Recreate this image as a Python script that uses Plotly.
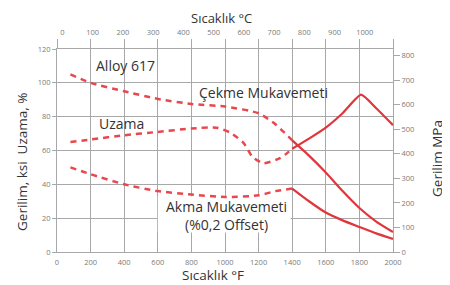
import plotly.graph_objects as go

# ---- data ----
tens_dash_T = [80, 200, 400, 600, 800, 1000, 1200, 1300, 1400]
tens_dash_V = [105, 100, 95, 90.5, 87.5, 86, 82, 75.5, 66]
tens_sol_T = [1400, 1500, 1600, 1700, 1800, 1900, 2000]
tens_sol_V = [66, 57, 47, 36, 26, 18, 11.8]

elong_dash_T = [80, 200, 400, 600, 800, 950, 1033, 1110, 1165, 1230, 1330, 1400]
elong_dash_V = [65, 66.5, 69, 71, 73, 73.5, 70.5, 64.5, 56, 52.5, 55.6, 61]
elong_sol_T = [1400, 1500, 1600, 1700, 1810, 1900, 2000]
elong_sol_V = [61, 67, 73.5, 82, 93, 85, 75]

yield_dash_T = [80, 200, 400, 600, 800, 1000, 1200, 1300, 1400]
yield_dash_V = [50, 46, 40, 36, 34, 32.5, 33.5, 36, 37.5]
yield_sol_T = [1400, 1500, 1600, 1700, 1800, 1900, 2000]
yield_sol_V = [37.5, 30, 23.3, 18.7, 14.8, 11, 7.7]

f_ticks = list(range(0, 2001, 200))
c_ticks = list(range(0, 1001, 100))
ksi_ticks = list(range(0, 121, 20))
mpa_ticks = list(range(0, 801, 100))

RED = "#e1353c"
DRED = "#e8474f"
GRID = "#a8a8a8"
TICKC = "#7a7a7a"
FONT = "Open Sans"

# page body adds an 8px offset; compensate so the figure sits like the reference
OFF = 8
W, H = 450 - OFF, 285 - OFF
L, R, T, B = 57 - OFF, 57, 49 - OFF, 33
PW, PH = W - L - R, H - T - B

fig = go.Figure()
dash = "6px,5px"
for xs, ys in [(tens_dash_T, tens_dash_V), (elong_dash_T, elong_dash_V), (yield_dash_T, yield_dash_V)]:
    fig.add_trace(go.Scatter(x=xs, y=ys, mode="lines", line=dict(color=DRED, width=2.5, dash=dash, shape="spline", smoothing=0.6),
                             showlegend=False, hoverinfo="skip"))
for xs, ys in [(tens_sol_T, tens_sol_V), (elong_sol_T, elong_sol_V), (yield_sol_T, yield_sol_V)]:
    fig.add_trace(go.Scatter(x=xs, y=ys, mode="lines", line=dict(color=RED, width=2.2, shape="spline", smoothing=0.5),
                             showlegend=False, hoverinfo="skip"))

# invisible traces to activate secondary axes
fig.add_trace(go.Scatter(x=[0], y=[0], xaxis="x2", yaxis="y", mode="markers", marker=dict(opacity=0), showlegend=False, hoverinfo="skip"))
fig.add_trace(go.Scatter(x=[0], y=[0], xaxis="x", yaxis="y2", mode="markers", marker=dict(opacity=0), showlegend=False, hoverinfo="skip"))
fig.add_trace(go.Scatter(x=[0], y=[0], xaxis="x3", yaxis="y", mode="markers", marker=dict(opacity=0), showlegend=False, hoverinfo="skip"))

tickfont = dict(family=FONT, size=7.5, color=TICKC)
fig.update_layout(
    width=W, height=H,
    margin=dict(l=L, r=R, t=T, b=B, pad=0),
    paper_bgcolor="white", plot_bgcolor="white",
    font=dict(family=FONT, color="#333"),
    xaxis=dict(range=[0, 2000], tickvals=f_ticks, showgrid=True, gridcolor=GRID, gridwidth=1,
               showline=True, linecolor=GRID, mirror=True, ticks="", tickfont=tickfont, zeroline=False, ticklabelstandoff=3),
    xaxis2=dict(overlaying="x", side="top", range=[(0 - 32) / 1.8, (2000 - 32) / 1.8], tickvals=c_ticks,
                showgrid=False, showline=False, ticks="", tickfont=tickfont, zeroline=False, ticklabelstandoff=12),
    xaxis3=dict(overlaying="x", side="top", range=[0, 2000], tickvals=f_ticks, showgrid=False, showline=False,
                ticks="outside", ticklen=9, tickcolor=GRID, showticklabels=False, zeroline=False),
    yaxis=dict(range=[0, 120], tickvals=ksi_ticks, showgrid=True, gridcolor=GRID, gridwidth=1,
               showline=True, linecolor=GRID, mirror=True, ticks="outside", ticklen=4, tickcolor=GRID,
               tickfont=tickfont, zeroline=False),
    yaxis2=dict(overlaying="y", side="right", range=[0, 120 * 6.894757], tickvals=mpa_ticks, showgrid=False,
                showline=False, ticks="outside", ticklen=6, tickcolor=GRID, tickfont=tickfont, zeroline=False),
)

# white box behind yield label
fig.add_shape(type="rect", xref="x", yref="y", x0=600, x1=1390, y0=11.5, y1=33, fillcolor="white",
              line=dict(width=0), layer="between")

# positions given in window pixels of the reference
def px_x(p):
    return (p - OFF - L) / PW
def px_y(p):
    return (H - B - (p - OFF)) / PH

LBL = dict(family=FONT, size=14, color="#333")
ann = [
    ("Alloy 617", 125, 65),
    ("Uzama", 121, 123),
    ("Çekme Mukavemeti", 263, 92),
    ("Akma Mukavemeti<br>(%0,2 Offset)", 226, 215.5),
]
for txt, x, y in ann:
    fig.add_annotation(text=txt, x=px_x(x), y=px_y(y), xref="paper", yref="paper", showarrow=False,
                       xanchor="center", yanchor="middle", font=LBL, borderpad=0, align="center")

TITLE = dict(family=FONT, size=13.5, color="#333")
fig.add_annotation(text="Sıcaklık °C", x=px_x(221), y=px_y(17.5), xref="paper", yref="paper", showarrow=False,
                   xanchor="center", yanchor="middle", font=dict(family=FONT, size=13, color="#333"), borderpad=0)
fig.add_annotation(text="Sıcaklık °F", x=px_x(213), y=px_y(275), xref="paper", yref="paper", showarrow=False,
                   xanchor="center", yanchor="middle", font=TITLE, borderpad=0)
fig.add_annotation(text="Gerilim, ksi  Uzama, %", x=px_x(22), y=px_y(162), xref="paper", yref="paper", showarrow=False,
                   xanchor="center", yanchor="middle", textangle=-90, font=TITLE, borderpad=0)
fig.add_annotation(text="Gerilim MPa", x=px_x(437), y=px_y(159), xref="paper", yref="paper", showarrow=False,
                   xanchor="center", yanchor="middle", textangle=-90, font=TITLE, borderpad=0)

fig.write_html("out.html")
